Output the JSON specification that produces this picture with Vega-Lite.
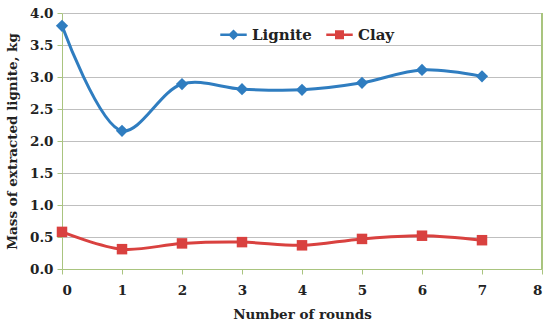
{
  "$schema": "https://vega.github.io/schema/vega-lite/v6.json",
  "autosize": {"type": "none"},
  "width": 480,
  "height": 256,
  "padding": {"left": 62, "top": 13, "right": 8, "bottom": 59},
  "background": "white",
  "config": {
    "font": "DejaVu Serif",
    "view": {"stroke": null},
    "axis": {"labelFont": "DejaVu Serif", "titleFont": "DejaVu Serif", "labelFontWeight": "bold", "titleFontWeight": "bold", "labelFontSize": 13.5, "titleFontSize": 13.5, "labelColor": "#222", "titleColor": "#222"}
  },
  "data": {"values": [
    {"round": 0, "series": "Lignite", "mass": 3.8},
    {"round": 1, "series": "Lignite", "mass": 2.16},
    {"round": 2, "series": "Lignite", "mass": 2.89},
    {"round": 3, "series": "Lignite", "mass": 2.81},
    {"round": 4, "series": "Lignite", "mass": 2.8},
    {"round": 5, "series": "Lignite", "mass": 2.91},
    {"round": 6, "series": "Lignite", "mass": 3.11},
    {"round": 7, "series": "Lignite", "mass": 3.01},
    {"round": 0, "series": "Clay", "mass": 0.58},
    {"round": 1, "series": "Clay", "mass": 0.31},
    {"round": 2, "series": "Clay", "mass": 0.4},
    {"round": 3, "series": "Clay", "mass": 0.42},
    {"round": 4, "series": "Clay", "mass": 0.37},
    {"round": 5, "series": "Clay", "mass": 0.47},
    {"round": 6, "series": "Clay", "mass": 0.52},
    {"round": 7, "series": "Clay", "mass": 0.45}
  ]},
  "encoding": {
    "x": {"field": "round", "type": "quantitative", "scale": {"domain": [0, 8], "nice": false},
      "axis": {"title": "Number of rounds", "values": [0,1,2,3,4,5,6,7,8], "format": "d", "grid": false, "domainColor": "#a9c47f", "tickColor": "#a9c47f", "tickSize": 5, "labelPadding": 9, "titlePadding": 11}},
    "y": {"field": "mass", "type": "quantitative", "scale": {"domain": [0, 4], "nice": false},
      "axis": {"title": "Mass of extracted lignite, kg", "values": [0,0.5,1,1.5,2,2.5,3,3.5,4], "format": ".1f", "gridColor": "#bfbfbf", "gridWidth": 1.2, "domainColor": "#a9c47f", "tickColor": "#a9c47f", "tickSize": 5, "labelPadding": 4, "titlePadding": 10}},
    "color": {"field": "series", "type": "nominal", "scale": {"domain": ["Lignite", "Clay"], "range": ["#2f7dc0", "#d9413f"]},
      "legend": {"title": null, "orient": "none", "direction": "horizontal", "legendX": 158, "legendY": 8,
        "labelFont": "DejaVu Serif", "labelFontWeight": "bold", "labelFontSize": 15, "labelColor": "#222",
        "symbolSize": 700, "symbolOpacity": 1, "symbolStrokeWidth": 0, "columnPadding": 14, "labelOffset": 5,
        "encode": {"symbols": {"update": {"opacity": {"value": 1}, "fillOpacity": {"value": 1}}}}}}
  },
  "layer": [
    {"mark": {"type": "rule", "color": "#a9c47f", "strokeWidth": 1.2}, "encoding": {"x": {"datum": 8}, "y": {"datum": 0}, "y2": {"datum": 4}, "color": {"value": "#a9c47f"}}},
    {"mark": {"type": "line", "interpolate": "catmull-rom", "strokeWidth": 3}, "encoding": {"detail": {"field": "series"}}},
    {"transform": [{"filter": "datum.series === 'Lignite'"}], "mark": {"type": "point", "filled": true, "opacity": 1, "shape": "diamond", "size": 150}},
    {"transform": [{"filter": "datum.series === 'Clay'"}], "mark": {"type": "point", "filled": true, "opacity": 1, "shape": "square", "size": 110}},
    {"transform": [{"filter": "datum.round === 0"}], "mark": {"type": "point", "filled": true, "opacity": 0}, "encoding": {
      "shape": {"field": "series", "type": "nominal", "scale": {"domain": ["Lignite", "Clay"], "range": [
        "M -1 -0.1 L 1 -0.1 L 1 0.1 L -1 0.1 Z M 0 -0.4 L 0.4 0 L 0 0.4 L -0.4 0 Z",
        "M -1 -0.1 L 1 -0.1 L 1 0.1 L -1 0.1 Z M -0.34 -0.34 L 0.34 -0.34 L 0.34 0.34 L -0.34 0.34 Z"]},
        "legend": {"title": null}}
    }}
  ]
}
